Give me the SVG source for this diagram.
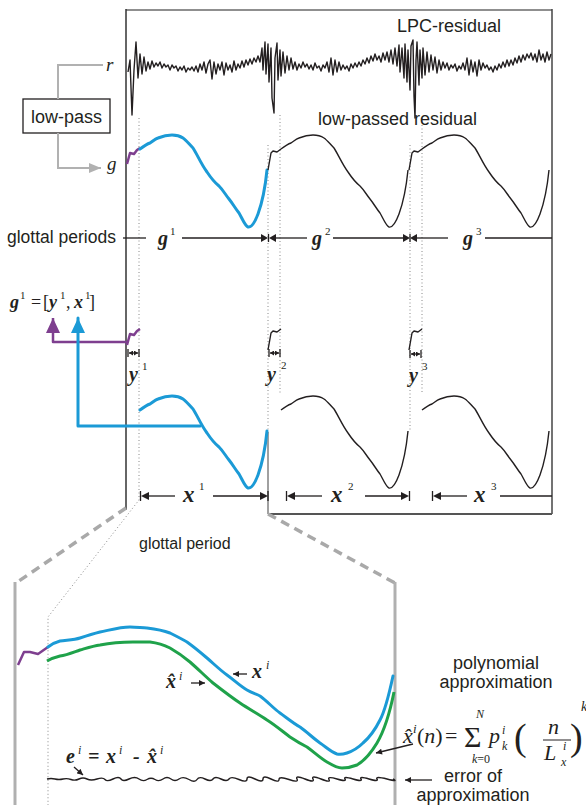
<svg xmlns="http://www.w3.org/2000/svg" width="586" height="805" viewBox="0 0 586 805">
<defs>
<style>
.sans{font-family:"Liberation Sans",Arial,sans-serif;fill:#231f20}
.m{font-family:"Liberation Serif","Times New Roman",serif;font-style:italic;font-weight:bold;fill:#231f20}
.mi{font-family:"Liberation Serif","Times New Roman",serif;font-style:italic;fill:#231f20}
.up{font-family:"Liberation Serif","Times New Roman",serif;fill:#231f20}
.sup{font-family:"Liberation Serif","Times New Roman",serif;font-size:11px;fill:#231f20}
.sig{fill:none;stroke:#231f20;stroke-width:1.4;stroke-linejoin:round}
.blue{fill:none;stroke:#1b9ad6;stroke-width:3;stroke-linejoin:round;stroke-linecap:round}
.purple{fill:none;stroke:#7e3f8f;stroke-width:2.5;stroke-linejoin:round}
.green{fill:none;stroke:#1fa24a;stroke-width:3;stroke-linejoin:round}
.dot{fill:none;stroke:#888;stroke-width:1;stroke-dasharray:1 2.5}
.dim{fill:none;stroke:#231f20;stroke-width:1.3}
.tri{fill:#231f20}
.gray{fill:none;stroke:#b1b1b1;stroke-width:2}
.dash{fill:none;stroke:#a9a9a9;stroke-width:3.5;stroke-dasharray:9 6}
.pan{fill:none;stroke:#b0b0b0;stroke-width:3}
</style>
<marker id="ahs" viewBox="0 0 10 10" refX="10" refY="5" markerWidth="7" markerHeight="6" markerUnits="userSpaceOnUse" orient="auto-start-reverse"><path d="M0,0 L10,5 L0,10 z" fill="#231f20"/></marker>
<marker id="ahy" viewBox="0 0 10 10" refX="10" refY="5" markerWidth="4" markerHeight="5" markerUnits="userSpaceOnUse" orient="auto-start-reverse" preserveAspectRatio="none"><path d="M0,0 L10,5 L0,10 z" fill="#231f20"/></marker>
<marker id="ahg" viewBox="0 0 10 10" refX="10" refY="5" markerWidth="12" markerHeight="10" markerUnits="userSpaceOnUse" orient="auto" preserveAspectRatio="none"><path d="M0,0 L10,5 L0,10 z" fill="#b1b1b1"/></marker>
<marker id="ahp" viewBox="0 0 10 10" refX="10" refY="5" markerWidth="15" markerHeight="14" markerUnits="userSpaceOnUse" orient="auto" preserveAspectRatio="none"><path d="M0,0 L10,5 L0,10 z" fill="#7e3f8f"/></marker>
<marker id="ahb" viewBox="0 0 10 10" refX="10" refY="5" markerWidth="15" markerHeight="14" markerUnits="userSpaceOnUse" orient="auto" preserveAspectRatio="none"><path d="M0,0 L10,5 L0,10 z" fill="#1b9ad6"/></marker>
<path id="shape" d="M13,149 C17,146 20,144 23,143 C26,141 28,139 31,138 C36,136 40,135 45,135 C50,135 53,136 56,138 C59,140 62,144 66,148 C70,154 74,164 80,172 C84,178 87,182 92,186 C96,190 98,194 102,199 C106,204 108,208 112,213 C115,218 118,226 121,227 C125,228 128,222 131,214 C135,203 138,190 140,170"/>
<path id="step" d="M0,170 L3,153 L5,151 L9,152 L13,149"/>
</defs>

<g id="frame">
<line x1="126" y1="10" x2="552" y2="10" stroke="#8f8f8f" stroke-width="2"/>
<line x1="126" y1="9" x2="126" y2="510" stroke="#333" stroke-width="1.5"/>
<line x1="552" y1="9" x2="552" y2="514" stroke="#444" stroke-width="1.5"/>
<line x1="268" y1="514" x2="552" y2="514" stroke="#555" stroke-width="1.8"/>
<line x1="268" y1="432" x2="268" y2="514" stroke="#a0a0a0" stroke-width="2"/>
</g>

<g id="guides">
<path class="dot" d="M139,118 L139,500 L48,617 L48,805"/>
<path class="dot" d="M268,145 L268,432"/>
<path class="dot" d="M280,115 L280,393"/>
<path class="dot" d="M410,145 L410,432"/>
<path class="dot" d="M422,118 L422,393"/>
<path class="dash" d="M126,508 L16,583"/>
<path class="dash" d="M268,514 L395,583"/>
<line class="pan" x1="15" y1="582" x2="15" y2="805"/>
<line class="pan" x1="395" y1="582" x2="395" y2="805"/>
</g>

<g id="lpc-residual">
<path class="sig" d="M128,72 L130,60 L132,115 L134,70 L136,42 L138,78 L140,54 L142,74 L144,57 L146,71 L148,62 L150,69 L152,61 L154,67 L156,63 L158,66 L160,62 L162,68 L164,64 L166,67 L168,65 L170,70 L172,65 L174,68 L176,66 L178,71 L180,67 L182,70 L184,66 L186,72 L188,68 L190,70 L192,67 L194,71 L196,66 L198,72 L200,64 L202,70 L204,62 L206,73 L208,64 L210,60 L212,79 L214,62 L216,74 L218,64 L220,70 L222,62 L224,75 L226,63 L228,70 L230,65 L232,72 L234,61 L236,70 L238,64 L240,68 L242,61 L244,67 L246,60 L248,65 L250,59 L252,64 L254,58 L256,62 L258,56 L260,62 L262,48 L263,70 L265,42 L266,74 L268,44 L269,82 L271,48 L272,98 L274,113 L275,58 L277,43 L278,80 L280,50 L281,76 L283,52 L285,73 L287,56 L289,70 L291,58 L293,69 L295,62 L297,70 L299,64 L301,68 L303,62 L305,67 L307,64 L309,69 L311,65 L313,70 L315,63 L317,68 L319,66 L321,71 L323,65 L325,68 L327,62 L329,72 L331,58 L333,75 L335,60 L337,72 L339,62 L341,70 L343,65 L345,69 L347,66 L349,71 L351,64 L353,68 L355,63 L357,67 L359,62 L361,66 L363,60 L365,64 L367,58 L369,63 L371,56 L373,61 L375,54 L377,60 L379,56 L381,62 L383,53 L385,60 L387,52 L389,62 L391,50 L393,64 L395,48 L397,66 L399,45 L400,72 L402,48 L404,78 L405,44 L407,82 L408,50 L410,90 L411,46 L413,40 L414,96 L415,118 L416,60 L417,42 L419,85 L420,50 L422,78 L423,48 L425,75 L427,52 L429,72 L431,55 L433,70 L435,57 L437,73 L439,60 L441,70 L443,62 L445,68 L447,63 L449,70 L451,65 L453,68 L455,64 L457,71 L459,66 L461,69 L463,63 L465,70 L467,58 L469,75 L471,60 L473,72 L475,62 L477,76 L479,60 L481,70 L483,63 L485,68 L487,65 L489,70 L491,67 L493,72 L495,66 L497,70 L499,64 L501,68 L503,62 L505,67 L507,60 L509,66 L511,60 L513,65 L515,58 L517,63 L519,56 L521,62 L523,55 L525,60 L527,54 L529,58 L531,53 L533,60 L535,54 L537,62 L539,50 L541,60 L543,54 L545,62 L547,52 L549,60 L551,54"/>
<text class="sans" x="397" y="32" font-size="18">LPC-residual</text>
<text class="mi" x="106" y="71" font-size="19">r</text>
</g>

<g id="low-pass">
<rect x="23" y="99" width="87" height="34" fill="#fff" stroke="#231f20" stroke-width="1.3"/>
<text class="sans" x="66.5" y="123" font-size="18" text-anchor="middle">low-pass</text>
</g>

<g id="g-signal">
<path class="purple" d="M127,164 L130,153 L134,154 L137,150 L140,148"/>
<use href="#shape" class="blue" transform="translate(127,0)"/>
<g class="sig"><use href="#step" transform="translate(268,0)"/><use href="#shape" transform="translate(268,0)"/><use href="#step" transform="translate(409,0)"/><use href="#shape" transform="translate(409,0)"/></g>
<text class="sans" x="318" y="125" font-size="18">low-passed residual</text>
<text class="mi" x="107" y="170" font-size="19">g</text>
</g>

<g id="glottal-periods">
<text class="sans" x="7" y="243" font-size="17.5">glottal periods</text>
<g class="dim">
<line x1="123" y1="238" x2="146" y2="238"/>
<line x1="182" y1="238" x2="262" y2="238"/>
<line x1="275" y1="238" x2="307" y2="238"/>
<line x1="333" y1="238" x2="404" y2="238"/>
<line x1="416" y1="238" x2="448" y2="238"/>
<line x1="485" y1="238" x2="552" y2="238"/>
<line x1="268.5" y1="234" x2="268.5" y2="242"/>
<line x1="410" y1="234" x2="410" y2="242"/>
</g>
<polygon class="tri" points="261,234 268,238 261,242"/>
<polygon class="tri" points="276,234 269,238 276,242"/>
<polygon class="tri" points="403,234 410,238 403,242"/>
<polygon class="tri" points="417,234 410,238 417,242"/>
<text class="m" x="158" y="245" font-size="20">g</text><text class="sup" x="170" y="235">1</text>
<text class="m" x="312" y="245" font-size="20">g</text><text class="sup" x="325" y="235">2</text>
<text class="m" x="463" y="245" font-size="20">g</text><text class="sup" x="476" y="235">3</text>
</g>

<g id="y-segments">
<path class="purple" d="M127,345 L130,334 L134,335 L137,331 L140,329"/>
<g class="sig" stroke-width="2"><use href="#step" transform="translate(268,180)"/><use href="#step" transform="translate(409,180)"/></g>
<g class="dim" stroke-width="1.2">
<line x1="129" y1="353" x2="138" y2="353" marker-start="url(#ahy)" marker-end="url(#ahy)"/>
<line x1="128" y1="349" x2="128" y2="357"/><line x1="139" y1="349" x2="139" y2="357"/>
<line x1="270" y1="353" x2="279" y2="353" marker-start="url(#ahy)" marker-end="url(#ahy)"/>
<line x1="269" y1="349" x2="269" y2="357"/><line x1="280" y1="349" x2="280" y2="357"/>
<line x1="411" y1="354" x2="420" y2="354" marker-start="url(#ahy)" marker-end="url(#ahy)"/>
<line x1="410" y1="350" x2="410" y2="358"/><line x1="421" y1="350" x2="421" y2="358"/>
</g>
<text class="m" x="129" y="381" font-size="20">y</text><text class="sup" x="142" y="370">1</text>
<text class="m" x="267" y="381" font-size="20">y</text><text class="sup" x="281" y="369">2</text>
<text class="m" x="409" y="382" font-size="20">y</text><text class="sup" x="422" y="370">3</text>
</g>

<g id="formula-g">
<text class="m" x="10" y="308" font-size="18">g</text><text class="sup" x="20" y="299" font-size="10">1</text>
<text class="up" x="31" y="308" font-size="18">=</text>
<text class="up" x="43" y="308" font-size="18">[</text>
<text class="m" x="49" y="308" font-size="18">y</text><text class="sup" x="60" y="299" font-size="10">1</text>
<text class="up" x="66" y="308" font-size="18">,</text>
<text class="m" x="74" y="308" font-size="18">x</text><text class="sup" x="85" y="299" font-size="10">1</text>
<text class="up" x="89" y="308" font-size="18">]</text>
</g>

<g id="x-signals">
<use href="#shape" class="blue" transform="translate(127,261)"/>
<g class="sig"><use href="#shape" transform="translate(268,261)"/><use href="#shape" transform="translate(409,261)"/></g>
<g class="dim">
<line x1="140.5" y1="491" x2="140.5" y2="501"/>
<line x1="148" y1="496" x2="175" y2="496"/>
<line x1="213" y1="496" x2="262" y2="496"/>
<line x1="268" y1="491" x2="268" y2="501"/>
<line x1="286.5" y1="491" x2="286.5" y2="501"/>
<line x1="294" y1="496" x2="322" y2="496"/>
<line x1="365" y1="496" x2="403" y2="496"/>
<line x1="409.5" y1="491" x2="409.5" y2="501"/>
<line x1="432.5" y1="491" x2="432.5" y2="501"/>
<line x1="440" y1="496" x2="467" y2="496"/>
<line x1="500" y1="496" x2="552" y2="496"/>
</g>
<polygon class="tri" points="141,496 149,492 149,500"/>
<polygon class="tri" points="268,496 260,492 260,500"/>
<polygon class="tri" points="287,496 295,492 295,500"/>
<polygon class="tri" points="409,496 401,492 401,500"/>
<polygon class="tri" points="433,496 441,492 441,500"/>
<text class="m" x="183" y="502" font-size="23">x</text><text class="sup" x="199" y="490">1</text>
<text class="m" x="331" y="502" font-size="23">x</text><text class="sup" x="348" y="490">2</text>
<text class="m" x="474" y="502" font-size="23">x</text><text class="sup" x="491" y="490">3</text>
<text class="sans" x="139" y="549" font-size="16">glottal period</text>
</g>

<g id="zoom-panel">
<path class="purple" d="M18,665 L24,652 L30,652 L38,654 L48,647"/>
<path class="blue" d="M48,647 C52,644 56,642 60,641 C66,640 74,640 80,638 C86,636 92,634 100,632 C110,630 120,627 130,627 C137,627 142,628 147,628 C155,629 162,630 170,633 C176,636 182,639 187,642 C194,647 200,652 207,658 C214,664 220,670 227,675 C234,680 240,686 247,690 C252,693 256,694 260,696 C267,701 273,708 280,713 C287,718 293,723 300,727 C307,732 313,738 320,743 C326,747 331,752 337,754 C341,755 344,754 347,753 C353,751 358,748 363,743 C370,737 375,730 380,720 C386,709 390,690 393,676"/>
<path class="green" d="M47,661 C52,658 56,657 60,656 C67,655 74,652 80,650 C87,648 93,646 100,645 C110,643 122,642 133,642 C140,642 145,642 150,642 C158,643 164,645 170,648 C177,652 184,657 190,662 C198,669 205,676 213,683 C222,690 231,697 240,703 C249,709 258,714 267,720 C275,725 282,731 290,737 C296,741 301,744 307,747 C314,752 320,758 327,762 C332,765 337,768 342,768 C347,768 352,767 357,765 C364,761 371,753 377,743 C384,731 390,712 394,692"/>
<path class="sig" stroke-width="2" d="M47,779 q4,-1 8,0 t8,0 t8,0.5 t8,-0.5 t8,0 t10,0 t8,0.5 t8,-0.5 t8,0 t8,0 t10,0 t8,0.5 t8,0 t8,-0.5 t8,0 t8,0 t10,0.5 t8,0 t8,-0.5 t8,0 t8,0 t8,0 t10,0.5 t8,-0.5 t8,0 t8,0 t8,0 t8,0.5 t10,0 t8,-0.5 t8,0 t8,0 t8,0 t8,0.5 t8,-0.5 t8,0 t8,0 t8,0 t8,0 t8,0 t10,0 t6,0"/>
<text class="m" x="166" y="688" font-size="20">x̂</text><text class="mi" x="179" y="680" font-size="12">i</text>
<line class="dim" x1="191" y1="683" x2="205" y2="683" marker-end="url(#ahs)"/>
<line class="dim" x1="247" y1="674" x2="233" y2="674" marker-end="url(#ahs)"/>
<text class="m" x="252" y="678" font-size="20">x</text><text class="mi" x="266" y="669" font-size="12">i</text>
<text class="m" x="66" y="763" font-size="20">e</text><text class="mi" x="78" y="754" font-size="12">i</text>
<text class="m" x="88" y="763" font-size="20">=</text>
<text class="m" x="106" y="763" font-size="20">x</text><text class="mi" x="119" y="754" font-size="12">i</text>
<text class="m" x="133" y="763" font-size="20">-</text>
<text class="m" x="147" y="763" font-size="20">x̂</text><text class="mi" x="160" y="754" font-size="12">i</text>
<line class="dim" x1="74" y1="767" x2="83" y2="775" marker-end="url(#ahs)" stroke-width="1"/>
</g>

<g id="polynomial">
<text class="sans" x="496" y="669" font-size="18" text-anchor="middle">polynomial</text>
<text class="sans" x="496" y="688" font-size="18" text-anchor="middle">approximation</text>
<text class="mi" x="403" y="743" font-size="22">x̂</text><text class="mi" x="413" y="733" font-size="13">i</text>
<text class="up" x="417" y="743" font-size="22">(<tspan font-style="italic">n</tspan>)</text>
<text class="up" x="445" y="743" font-size="22">=</text>
<text class="up" x="464" y="747" font-size="30">Σ</text>
<text class="mi" x="476" y="718" font-size="12">N</text>
<text class="up" x="472" y="763" font-size="12"><tspan font-style="italic">k</tspan>=0</text>
<text class="mi" x="489" y="743" font-size="22">p</text>
<text class="mi" x="502" y="734" font-size="12">i</text><text class="mi" x="502" y="750" font-size="12">k</text>
<text class="up" x="514" y="750" font-size="38">(</text>
<text class="mi" x="548" y="734" font-size="22">n</text>
<line x1="543" y1="740" x2="571" y2="740" stroke="#231f20" stroke-width="1"/>
<text class="mi" x="544" y="760" font-size="22">L</text>
<text class="mi" x="563" y="750" font-size="12">i</text><text class="mi" x="561" y="766" font-size="12">x</text>
<text class="up" x="570" y="750" font-size="38">)</text>
<text class="mi" x="581" y="711" font-size="14">k</text>
<line class="dim" x1="413" y1="744" x2="376" y2="753" marker-end="url(#ahs)"/>
<line class="dim" x1="432" y1="780" x2="405" y2="780" marker-end="url(#ahs)"/>
<text class="sans" x="473" y="782" font-size="18" text-anchor="middle">error of</text>
<text class="sans" x="473" y="801" font-size="18" text-anchor="middle">approximation</text>
</g>

<g id="connectors">
<path class="gray" d="M103,65 L58,65 L58,99"/>
<path class="gray" d="M58,133 L58,168 L101,168" marker-end="url(#ahg)"/>
<path class="purple" d="M127,342 L53,342 L53,318" marker-end="url(#ahp)"/>
<path class="blue" stroke-linecap="butt" d="M200,426 L78,426 L78,318" marker-end="url(#ahb)"/>
</g>
</svg>
